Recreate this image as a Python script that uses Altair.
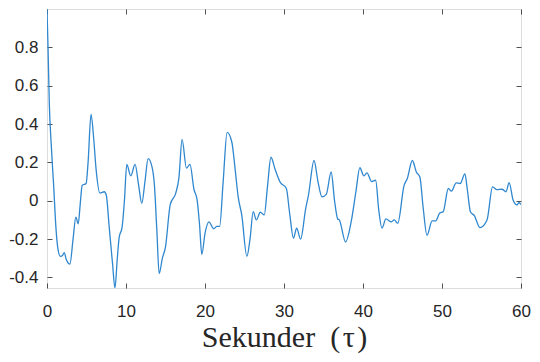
import altair as alt
import pandas as pd

# lag (seconds) and autocorrelation values
tau = [0, 0.13, 0.29, 0.54, 0.84, 1.13, 1.38, 1.68, 1.97, 2.18, 2.43, 2.9, 3.3, 3.65, 3.95,
       4.2, 4.45, 4.95, 5.2, 5.57, 5.9, 6.2, 6.7, 7.25, 7.5, 7.88, 8.3, 8.6, 8.9, 9.14, 9.5,
       9.8, 10.1, 10.6, 11.15, 11.6, 12.0, 12.4, 12.8, 13.3, 13.6, 13.9, 14.2, 14.6, 15.0,
       15.6, 16.3, 16.7, 17.1, 17.65, 18.1, 18.6, 19.0, 19.3, 19.6, 20.0, 20.5, 21.1, 21.5,
       21.85, 22.3, 22.8, 23.4, 23.8, 24.2, 24.65, 25.3, 25.7, 26.1, 26.5, 27.0, 27.5, 27.9,
       28.35, 28.85, 29.5, 30.3, 30.7, 31.2, 31.6, 32.1, 32.75, 33.1, 33.8, 34.3, 34.8, 35.35,
       35.97, 36.4, 36.8, 37.0, 37.8, 38.5, 39.1, 39.6, 40.1, 40.5, 41.1, 41.6, 42.0, 42.4,
       42.9, 43.6, 43.95, 44.4, 45.2, 45.6, 46.25, 46.75, 47.2, 47.6, 48.1, 48.75, 49.2, 49.7,
       50.15, 50.8, 51.2, 51.8, 52.3, 52.9, 53.2, 53.6, 54.1, 54.8, 55.7, 56.4, 56.95, 57.6,
       58.1, 58.5, 59.0, 59.5, 59.75, 60]
acf = [1.0, 0.80, 0.51, 0.29, 0.08, -0.14, -0.25, -0.29, -0.285, -0.27, -0.305, -0.33, -0.2,
       -0.085, -0.12, -0.02, 0.08, 0.09, 0.2, 0.45, 0.33, 0.17, 0.04, 0.047, 0.03, -0.14, -0.33,
       -0.455, -0.3, -0.19, -0.14, 0.0, 0.19, 0.13, 0.19, 0.08, -0.014, 0.1, 0.22, 0.175, 0.08,
       -0.15, -0.38, -0.3, -0.24, -0.02, 0.04, 0.12, 0.32, 0.17, 0.19, 0.06, 0.005, -0.12, -0.28,
       -0.17, -0.11, -0.146, -0.134, -0.134, 0.1, 0.357, 0.305, 0.17, 0.02, -0.074, -0.29, -0.2,
       -0.057, -0.1, -0.06, -0.074, 0.07, 0.227, 0.167, 0.098, 0.064, -0.06, -0.195, -0.143,
       -0.2, -0.04, 0.03, 0.21, 0.1, 0.02, 0.033, 0.15, 0.0, -0.095, -0.1, -0.215, -0.11, 0.047,
       0.172, 0.13, 0.145, 0.1, 0.107, -0.05, -0.143, -0.095, -0.11, -0.1, -0.117, 0.08, 0.115,
       0.21, 0.15, 0.124, -0.03, -0.18, -0.105, -0.105, -0.065, -0.057, 0.064, 0.05, 0.093,
       0.09, 0.14, 0.06, -0.057, -0.078, -0.14, -0.1, 0.072, 0.058, 0.06, 0.047, 0.095, 0.004,
       -0.022, -0.009, -0.02]

x_ticks = [0, 10, 20, 30, 40, 50, 60]
y_ticks = [-0.4, -0.2, 0, 0.2, 0.4, 0.6, 0.8]
x_domain = [0, 60]
y_domain = [-0.455, 1.0]

df = pd.DataFrame({"tau": tau, "acf": acf})

AX = "#262626"
ylab = "datum.value < 0 ? '-' + format(-datum.value, '.1~f') : format(datum.value, '.1~f')"

base = alt.Chart(df)

main = base.mark_line(color="#2f87cf", strokeWidth=1.3, interpolate="monotone", clip=True).encode(
    x=alt.X("tau:Q", scale=alt.Scale(domain=x_domain, nice=False, zero=False),
            axis=alt.Axis(values=x_ticks, title="Sekunder\u2002(\u200aτ\u200a)", grid=False,
                          domain=False, offset=-5, tickSize=5, tickColor=AX, tickWidth=0.8,
                          labelFont="Liberation Sans", labelFontSize=17, labelColor=AX,
                          labelPadding=15, labelFlush=False,
                          titleFont="Liberation Serif", titleFontSize=30,
                          titleFontWeight="normal", titleColor=AX,
                          titleBaseline="alphabetic", titleY=63)),
    y=alt.Y("acf:Q", scale=alt.Scale(domain=y_domain, nice=False, zero=False),
            axis=alt.Axis(values=y_ticks, title=None, grid=False, domain=False,
                          offset=-5, tickSize=5, tickColor=AX, tickWidth=0.8,
                          labelFont="Liberation Sans", labelFontSize=17, labelColor=AX,
                          labelPadding=9, labelExpr=ylab)),
)

mirror = base.mark_line(strokeOpacity=0).encode(
    x=alt.X("tau:Q", scale=alt.Scale(domain=x_domain, nice=False, zero=False),
            axis=alt.Axis(orient="top", values=x_ticks, labels=False, title=None, grid=False,
                          domain=False, offset=-5, tickSize=5, tickColor=AX, tickWidth=0.8)),
    y=alt.Y("acf:Q", scale=alt.Scale(domain=y_domain, nice=False, zero=False),
            axis=alt.Axis(orient="right", values=y_ticks, labels=False, title=None, grid=False,
                          domain=False, offset=-5, tickSize=5, tickColor=AX, tickWidth=0.8)),
)

chart = alt.layer(main, mirror).resolve_scale(x="independent", y="independent").properties(
    width=474, height=279,
    autosize=alt.AutoSizeParams(type="none"),
    padding={"left": 39, "top": 1, "right": 11, "bottom": 66},
).configure_view(stroke=AX, strokeWidth=1).configure(background="white")

chart.save("out.html", embed_options={"renderer": "svg", "actions": False})
